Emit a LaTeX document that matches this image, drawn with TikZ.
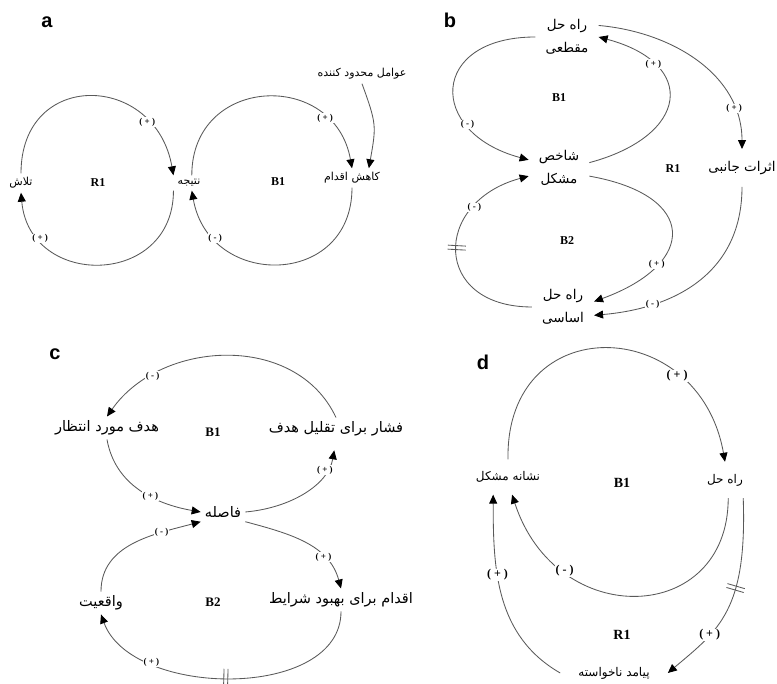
\documentclass[tikz,border=0pt]{standalone}
\usepackage{fontspec}
\setmainfont{Liberation Serif}
\newfontfamily\fafont[Script=Arabic]{DejaVu Sans}
\newfontfamily\panelfont{Liberation Sans}
\TeXXeTstate=1
\usetikzlibrary{arrows.meta}
\usetikzlibrary{decorations.markings}
\newcommand{\fatext}[1]{{\fafont\beginR#1\endR}}

\tikzset{
lbl/.style={font=\fontsize{#1}{#1}\selectfont, inner sep=4pt},
lbl/.default=11,
twoline/.style={align=center, font=\fontsize{13.5}{23}\selectfont, inner xsep=10pt, inner ysep=4pt},
loopname/.style={font=\fontsize{#1}{#1}\selectfont\bfseries},
loopname/.default=12,
panel/.style={font=\panelfont\bfseries\fontsize{20}{22}\selectfont},
sign/.style={font=\fontsize{9}{10}\selectfont\bfseries, fill=white, inner sep=0.6pt},
bigsign/.style={sign, font=\fontsize{12}{13}\selectfont\bfseries},
link/.style={draw=black!65, line width=0.85pt},
arr/.style={link, -{Triangle[length=9pt,width=8pt,color=black]}},
delaymark/.style={postaction={decorate,decoration={markings,mark=at position #1 with {\draw[-,black!65,line width=0.85pt] (-2pt,-9pt) -- (-2pt,9pt) (2pt,-9pt) -- (2pt,9pt);}}}}
}

\begin{document}
\begin{tikzpicture}[x=1pt,y=1pt]
\useasboundingbox (0,0) rectangle (777,684);

% a
\node[panel] (pa) at (47,662) {a};
\node[lbl] (tal) at (21,501) {\fatext{تلاش}};
\node[lbl] (nat) at (189,501) {\fatext{نتیجه}};
\node[lbl] (kah) at (352,506) {\fatext{کاهش اقدام}};
\node[lbl] (avm) at (362,610) {\fatext{عوامل محدود کننده}};
\node[loopname] (ra1) at (98,501) {R1};
\node[loopname] (ba1) at (278,502) {B1};
\draw[arr] (tal.north) to[out=90,in=100,looseness=1.75] node[sign,pos=0.78] {( + )} (nat.north west);
\draw[arr] (nat.south west) to[out=-90,in=-85,looseness=1.62] node[sign,pos=0.8] {( + )} (tal.south);
\draw[arr] (nat.70) to[out=90,in=100,looseness=1.6] node[sign,pos=0.78] {( + )} (kah.north);
\draw[arr] (kah.south) to[out=-90,in=-80,looseness=1.6] node[sign,pos=0.8] {( - )} (nat.-70);
\draw[arr] (avm.south) to[out=-70,in=80,looseness=1.3] (kah.30);

% b
\node[panel] (pb) at (450,664) {b};
\node[twoline] (rhm) at (567,647) {\fatext{راه حل}\\\fatext{مقطعی}};
\node[twoline] (shm) at (559,516) {\fatext{شاخص}\\\fatext{مشکل}};
\node[twoline] (rha) at (563,377) {\fatext{راه حل}\\\fatext{اساسی}};
\node[lbl=13.5, inner ysep=12pt] (ajn) at (742,516) {\fatext{اثرات جانبی}};
\node[loopname] (bb1) at (559,586) {B1};
\node[loopname] (bb2) at (567,443) {B2};
\node[loopname] (rb1) at (673,515) {R1};
\draw[arr] (rhm.west) to[out=180,in=165,looseness=2.2] node[sign,pos=0.72] {( - )} (shm.165);
\draw[arr] (shm.10) to[out=15,in=-15,looseness=2.1] node[sign,pos=0.75] {( + )} (rhm.east);
\draw[arr, delaymark=0.5] (rha.west) to[out=180,in=195,looseness=1.95] node[sign,pos=0.75] {( - )} (shm.195);
\draw[arr] (shm.-15) to[out=-10,in=20,looseness=2.25] node[sign,pos=0.72] {( + )} (rha.10);
\draw[arr] (rhm.20) to[out=-5,in=90,looseness=1] node[sign,pos=0.8] {( + )} (ajn.north);
\draw[arr] (ajn.south) to[out=-90,in=5,looseness=1.1] node[sign,pos=0.75] {( - )} (rha.-15);

% c
\node[panel] (pc) at (55,330) {c};
\node[lbl=14.5] (hmo) at (107,256) {\fatext{هدف مورد انتظار}};
\node[lbl=14.5] (fbt) at (336,255) {\fatext{فشار برای تقلیل هدف}};
\node[lbl=14.5] (fas) at (223,172) {\fatext{فاصله}};
\node[lbl=14.5] (vaq) at (101,81) {\fatext{واقعیت}};
\node[lbl=14.5] (abs) at (341,84) {\fatext{اقدام برای بهبود شرایط}};
\node[loopname=13] (bc1) at (213,252) {B1};
\node[loopname=13] (bc2) at (213,82) {B2};
\draw[arr] (fbt.north) to[out=115,in=55,looseness=1.05] node[sign,pos=0.78] {( - )} (hmo.north);
\draw[arr] (hmo.south) to[out=-80,in=170] node[sign,pos=0.6] {( + )} (fas.west);
\draw[arr, shorten >=10pt] (fas.east) to[out=5,in=-100] node[sign,pos=0.75] {( + )} (fbt.south);
\draw[arr] (fas.south east) to[out=-15,in=105] node[sign,pos=0.7] {( + )} (abs.north);
\draw[arr, delaymark=0.5] (abs.south) to[out=-90,in=-70,looseness=0.95] node[sign,pos=0.75] {( + )} (vaq.south);
\draw[arr] (vaq.north) to[out=90,in=195] node[sign,pos=0.72] {( - )} (fas.south west);

% d
\node[panel] (pd) at (483,322) {d};
\node[lbl=12, inner ysep=12pt] (nmo) at (508,207) {\fatext{نشانه مشکل}};
\node[lbl=12, inner ysep=12pt] (rhd) at (725,204) {\fatext{راه حل}};
\node[lbl=12, inner xsep=18pt] (pan) at (614,11) {\fatext{پیامد ناخواسته}};
\node[loopname=14] (bd1) at (622,201) {B1};
\node[loopname=14] (rd1) at (622,49) {R1};
\draw[arr] (nmo.north) to[out=91,in=100,looseness=1.77] node[bigsign,pos=0.74] {( + )} (rhd.north);
\draw[arr] (rhd.-80) to[out=-90,in=-72,out looseness=1.5,in looseness=1.7] node[bigsign,pos=0.75] {( - )} (nmo.-77);
\draw[arr, delaymark=0.45] (rhd.-45) to[out=-88,in=40,out looseness=1.5,in looseness=0.9] node[bigsign,pos=0.68] {( + )} (pan.east);
\draw[arr] (pan.west) to[out=150,in=-90] node[bigsign,pos=0.62] {( + )} (nmo.-130);

\end{tikzpicture}
\end{document}
